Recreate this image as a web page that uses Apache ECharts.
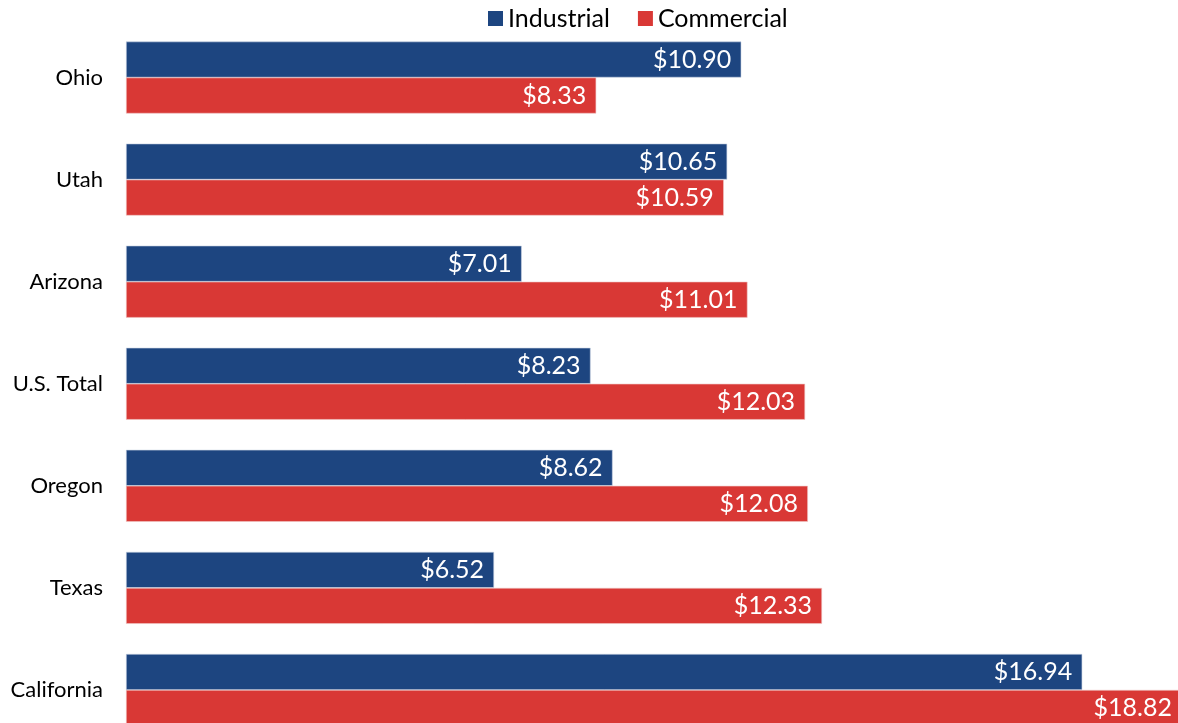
<!DOCTYPE html>
<html><head><meta charset="utf-8">
<script src="https://cdn.jsdelivr.net/npm/echarts@6/dist/echarts.min.js"></script>
<style>html,body{margin:0;padding:0;background:#fff;overflow:hidden;width:1178px;height:723px}#c{width:1255px;height:741px}</style>
</head><body><div id="c"></div>
<script>
const categories = ["Ohio", "Utah", "Arizona", "U.S. Total", "Oregon", "Texas", "California"];
const industrial = [10.90, 10.65, 7.01, 8.23, 8.62, 6.52, 16.94];
const commercial = [8.33, 10.59, 11.01, 12.03, 12.08, 12.33, 18.82];
const seriesNames = ["Industrial", "Commercial"];

const FONT = "Lato";
const VISIBLE_RIGHT = 1172;
const chart = echarts.init(document.getElementById('c'));
const labelCfg = {
  show: true, position: 'insideRight', distance: 10, color: '#fff',
  fontFamily: FONT, fontSize: 25,
  formatter: p => '$' + p.value.toFixed(2)
};
// keep labels of bars that run past the visible page inside the visible area
const keepVisible = p => {
  const r = p.labelRect;
  const over = r.x + r.width - VISIBLE_RIGHT;
  return over > 0 ? { dx: -over } : {};
};
chart.setOption({
  animation: false,
  legend: {
    top: 1, left: 483, itemWidth: 15, itemHeight: 15, itemGap: 28,
    icon: 'rect',
    itemStyle: { borderWidth: 0 },
    textStyle: { fontFamily: FONT, fontSize: 25, color: '#000' },
    data: seriesNames
  },
  grid: { left: 126, top: 26.5, right: 0, bottom: 0, containLabel: false },
  xAxis: { type: 'value', min: 0, max: 20, show: false },
  yAxis: {
    type: 'category', data: categories, inverse: true,
    axisLine: { show: false }, axisTick: { show: false },
    axisLabel: { fontFamily: FONT, fontSize: 22, color: '#000', margin: 23 }
  },
  series: [
    { name: seriesNames[0], type: 'bar', data: industrial, barWidth: 36, barGap: '0%',
      itemStyle: { color: '#1D4580', borderColor: '#c9d3e3', borderWidth: 0.6 },
      label: labelCfg, labelLayout: keepVisible },
    { name: seriesNames[1], type: 'bar', data: commercial, barWidth: 36, barGap: '0%',
      itemStyle: { color: '#D93835', borderColor: '#f0c8c6', borderWidth: 0.6 },
      label: labelCfg, labelLayout: keepVisible }
  ]
});
</script></body></html>
